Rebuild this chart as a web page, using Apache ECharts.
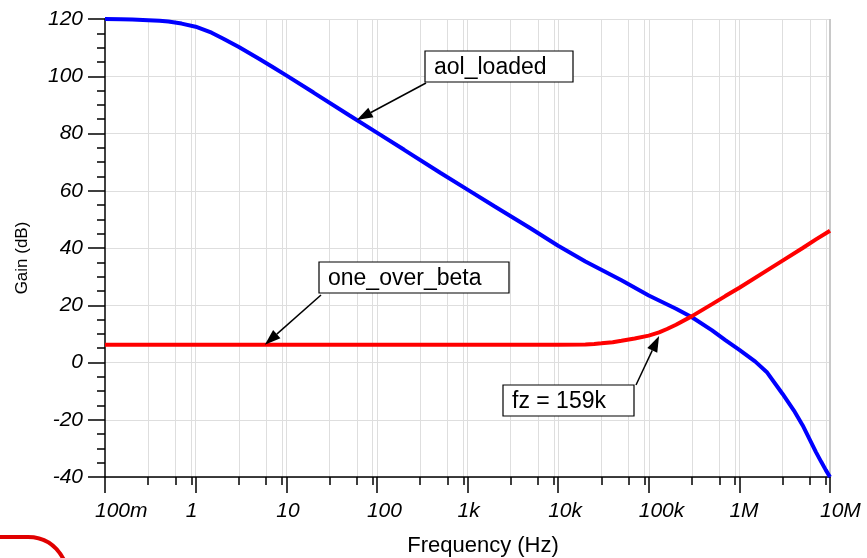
<!DOCTYPE html>
<html>
<head>
<meta charset="utf-8">
<script src="https://cdn.jsdelivr.net/npm/echarts@6/dist/echarts.min.js"></script>
<style>
  html, body { margin: 0; padding: 0; background: #fff; }
  #chart { width: 867px; height: 558px; }
</style>
</head>
<body>
<div id="chart"></div>
<script>
// Frequency axis: decade ticks with engineering-prefix labels
const xTickValues = [0.1, 1, 10, 100, 1e3, 1e4, 1e5, 1e6, 1e7];
const xTickLabels = ['100m', '1', '10', '100', '1k', '10k', '100k', '1M', '10M'];
// Minor ticks at 3, 6 and 9 within each decade
const xMinorValues = [0.3, 0.6, 0.9, 3, 6, 9, 30, 60, 90, 300, 600, 900,
  3e3, 6e3, 9e3, 3e4, 6e4, 9e4, 3e5, 6e5, 9e5, 3e6, 6e6, 9e6];

// Gain axis (dB)
const yMin = -40;
const yMax = 120;
const yStep = 20;

// Open-loop gain with load (aol_loaded)
const aolFreq = [0.1, 0.15, 0.2, 0.3, 0.4, 0.5, 0.7, 1, 1.5, 2, 3, 5, 7, 10, 20, 50,
  100, 200, 500, 1e3, 2e3, 5e3, 1e4, 2e4, 5e4, 1e5, 2e5, 3e5, 5e5, 7e5, 1e6,
  1.5e6, 2e6, 3e6, 4e6, 5e6, 6e6, 7e6, 8e6, 9e6, 1e7];
const aolGain = [120, 119.9, 119.8, 119.6, 119.4, 119.1, 118.4, 117.3, 115.2, 113.2,
  110.2, 106.1, 103.3, 100.3, 94.3, 86.3, 80.3, 74.3, 66.3, 60.4, 54.5, 46.8,
  40.8, 35.3, 28.7, 23.4, 18.8, 15.8, 11.2, 7.8, 4.4, 0.3, -3.3, -11, -16.8,
  -22, -27, -31.3, -34.7, -37.6, -40];

// Noise gain 1/beta (one_over_beta)
const betaFreq = [0.1, 1, 10, 100, 1e3, 1e4, 2e4, 2.5e4, 3e4, 4e4, 5e4, 7e4, 1e5,
  1.3e5, 1.59e5, 2e5, 3e5, 5e5, 7e5, 1e6, 2e6, 3e6, 5e6, 7e6, 1e7];
const betaGain = [6.2, 6.2, 6.2, 6.2, 6.2, 6.2, 6.3, 6.5, 6.7, 7.1, 7.6, 8.4, 9.4,
  10.5, 11.7, 13.2, 16.2, 20.4, 23.2, 26.1, 32.1, 35.6, 40.0, 43.0, 46.0];

// Callout targets [frequency, gain]
const aolCalloutTarget = [60, 84.7];
const betaCalloutTarget = [5.8, 6.2];
const fzCalloutTarget = [1.3e5, 9.3];

const FONT = 'Arial, "Liberation Sans", Helvetica, sans-serif';
const labelByDecade = {};
xTickValues.forEach((v, i) => { labelByDecade[Math.round(Math.log10(v))] = xTickLabels[i]; });

const zip = (xs, ys) => xs.map((x, i) => [x, ys[i]]);
const gridBox = { left: 105, right: 37, top: 19, bottom: 81 };

const chart = echarts.init(document.getElementById('chart'), null, { renderer: 'canvas' });

const tickFont = { fontFamily: FONT, fontSize: 21, fontStyle: 'italic', color: '#000' };

const option = {
  animation: false,
  backgroundColor: '#fff',
  grid: [
    Object.assign({ show: false }, gridBox),
    Object.assign({ show: false }, gridBox)
  ],
  xAxis: [
    {
      type: 'log', logBase: 10, gridIndex: 0,
      min: xTickValues[0], max: xTickValues[xTickValues.length - 1], splitNumber: 8,
      axisLine: { show: true, onZero: false, lineStyle: { color: '#000', width: 1.5 } },
      axisTick: { show: true, length: 16, lineStyle: { color: '#000', width: 1.5 } },
      splitLine: { show: false },
      axisLabel: Object.assign({
        margin: 24, hideOverlap: false, showMinLabel: true, showMaxLabel: true,
        formatter: v => '{t|' + labelByDecade[Math.round(Math.log10(v))] + '}',
        rich: { t: Object.assign({ width: 20, align: 'left' }, tickFont) }
      }, tickFont)
    },
    {
      type: 'log', logBase: 10, gridIndex: 1, position: 'bottom',
      min: xTickValues[0], max: xTickValues[xTickValues.length - 1],
      axisLine: { show: false, onZero: false },
      axisLabel: { show: false },
      splitLine: { show: false },
      axisTick: { show: true, length: 8, customValues: xMinorValues,
        lineStyle: { color: '#000', width: 1.5 } }
    }
  ],
  yAxis: [
    {
      type: 'value', gridIndex: 0, min: yMin, max: yMax, interval: yStep,
      axisLine: { show: true, onZero: false, lineStyle: { color: '#000', width: 1.5 } },
      axisTick: { show: true, length: 17, lineStyle: { color: '#000', width: 1.5 } },
      minorTick: { show: true, splitNumber: 4, length: 8, lineStyle: { color: '#000', width: 1.5 } },
      splitLine: { show: true, lineStyle: { color: '#dedede', width: 1 } },
      axisLabel: Object.assign({ margin: 22 }, tickFont)
    },
    { type: 'value', gridIndex: 1, min: yMin, max: yMax, show: false }
  ],
  series: [
    {
      // vertical grid lines at decades and at the 3/6/9 minor positions
      type: 'line', xAxisIndex: 0, yAxisIndex: 0, z: 0, silent: true,
      data: [], showSymbol: false,
      markLine: {
        z: 0, silent: true, symbol: 'none', label: { show: false }, animation: false,
        lineStyle: { color: '#dedede', width: 1, type: 'solid' },
        data: xMinorValues.concat(xTickValues.slice(1, -1)).map(v => ({ xAxis: v }))
          .concat([{ xAxis: xTickValues[xTickValues.length - 1], lineStyle: { color: '#c8c8c8', width: 2 } }])
      }
    },
    {
      name: 'aol_loaded', type: 'line', xAxisIndex: 0, yAxisIndex: 0, z: 3,
      data: zip(aolFreq, aolGain), showSymbol: false, smooth: false,
      lineStyle: { color: '#0000ff', width: 4 }
    },
    {
      name: 'one_over_beta', type: 'line', xAxisIndex: 0, yAxisIndex: 0, z: 4,
      data: zip(betaFreq, betaGain), showSymbol: false, smooth: false,
      lineStyle: { color: '#ff0000', width: 4 }
    }
  ]
};
chart.setOption(option);

// Callout boxes with arrows pointing at the curves
function arrow(from, to) {
  const dx = to[0] - from[0], dy = to[1] - from[1];
  const len = Math.sqrt(dx * dx + dy * dy);
  const ux = dx / len, uy = dy / len;
  const headLen = 16, headHalf = 5.5;
  const bx = to[0] - ux * headLen, by = to[1] - uy * headLen;
  return [
    { type: 'line', z: 20, shape: { x1: from[0], y1: from[1], x2: bx, y2: by },
      style: { stroke: '#000', lineWidth: 1.5 } },
    { type: 'polygon', z: 20, shape: { points: [
        [to[0], to[1]],
        [bx - uy * headHalf, by + ux * headHalf],
        [bx + uy * headHalf, by - ux * headHalf]] },
      style: { fill: '#000' } }
  ];
}
function callout(text, x, y, w, h) {
  return [
    { type: 'rect', z: 21, shape: { x: x, y: y, width: w, height: h },
      style: { fill: '#fff', stroke: '#000', lineWidth: 1.2 } },
    { type: 'text', z: 22, x: x + 9, y: y + h / 2 + 1,
      style: { text: text, fill: '#000', font: '23px ' + FONT, verticalAlign: 'middle', align: 'left' } }
  ];
}
const px = p => chart.convertToPixel({ xAxisIndex: 0, yAxisIndex: 0 }, p);

const graphics = []
  .concat(arrow([426, 83], px(aolCalloutTarget)))
  .concat(callout('aol_loaded', 425, 51, 148, 31))
  .concat(arrow([321, 295], px(betaCalloutTarget)))
  .concat(callout('one_over_beta', 319, 262, 190, 31))
  .concat(arrow([636, 385], px(fzCalloutTarget)))
  .concat(callout('fz = 159k', 503, 385, 131, 31))
  .concat([
    { type: 'text', z: 10, x: 22, y: 258, rotation: Math.PI / 2,
      style: { text: 'Gain (dB)', fill: '#000', font: '17px ' + FONT, align: 'center', verticalAlign: 'middle' } },
    { type: 'text', z: 10, x: 483, y: 546,
      style: { text: 'Frequency (Hz)', fill: '#000', font: '22px ' + FONT, align: 'center', verticalAlign: 'middle' } },
    // red marker stroke in the lower-left corner
    { type: 'polyline', z: 10, shape: { points: [[0, 537], [28, 537]] },
      style: { fill: 'none', stroke: '#e00000', lineWidth: 4 } },
    { type: 'bezierCurve', z: 10, shape: { x1: 28, y1: 537, cpx1: 52, cpy1: 537, x2: 64, y2: 560 },
      style: { fill: 'none', stroke: '#e00000', lineWidth: 4 } }
  ]);
chart.setOption({ graphic: graphics });
</script>
</body>
</html>
